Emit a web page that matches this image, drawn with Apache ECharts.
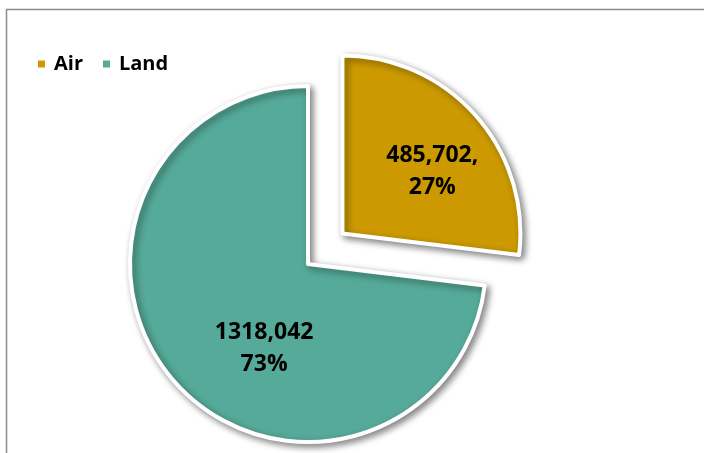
<!DOCTYPE html>
<html>
<head>
<meta charset="utf-8">
<script src="https://cdn.jsdelivr.net/npm/echarts@6/dist/echarts.min.js"></script>
<style>
html,body{margin:0;padding:0;background:#fff;}
#chart{width:704px;height:453px;}
</style>
</head>
<body>
<div id="chart"></div>
<script>
const categories = ['Air', 'Land'];
const values = [485702, 1318042];
const valueLabels = ['485,702,', '1318,042'];
const separators = ['\n', '\n'];
const colors = ['#CC9A00', '#56AA99'];

const chart = echarts.init(document.getElementById('chart'), null, {renderer: 'canvas'});
const FONT = '"Open Sans", "Liberation Sans", sans-serif';

const labelShift = [[21, -1], [25, 23]];

chart.setOption({
  backgroundColor: '#ffffff',
  animation: false,
  graphic: [{
    type: 'rect',
    shape: {x: 6.5, y: 9.5, width: 760, height: 500},
    style: {fill: 'none', stroke: '#8c8c8c', lineWidth: 1.5},
    silent: true,
    z: -10
  }],
  legend: {
    left: 36,
    top: 54,
    padding: 0,
    icon: 'rect',
    itemWidth: 9,
    itemHeight: 9,
    itemGap: 18,
    selectedMode: false,
    data: categories,
    textStyle: {
      fontFamily: FONT,
      fontWeight: 'bold',
      fontSize: 20,
      color: '#000',
      lineHeight: 20,
      padding: [0, 0, 0, 3]
    }
  },
  series: [{
    type: 'pie',
    center: [308, 264],
    radius: [0, 178],
    startAngle: 90,
    clockwise: true,
    selectedMode: 'single',
    selectedOffset: 46,
    percentPrecision: 0,
    emphasis: {disabled: true},
    select: {disabled: false, itemStyle: {borderColor: '#fff', borderWidth: 4}},
    itemStyle: {
      borderColor: '#ffffff',
      borderWidth: 4,
      shadowBlur: 7,
      shadowColor: 'rgba(0,0,0,0.45)',
      shadowOffsetX: 3,
      shadowOffsetY: 3
    },
    label: {
      show: true,
      position: 'inside',
      fontFamily: FONT,
      fontWeight: 'bold',
      fontSize: 23,
      lineHeight: 32,
      color: '#000',
      align: 'center',
      formatter: function (p) {
        return valueLabels[p.dataIndex] + separators[p.dataIndex] + p.percent + '%';
      }
    },
    labelLine: {show: false},
    labelLayout: function (p) {
      const s = labelShift[p.dataIndex];
      return {dx: s[0], dy: s[1]};
    },
    data: categories.map(function (c, i) {
      return {name: c, value: values[i], selected: i === 0, itemStyle: {color: colors[i]}};
    })
  }]
});
</script>
</body>
</html>
